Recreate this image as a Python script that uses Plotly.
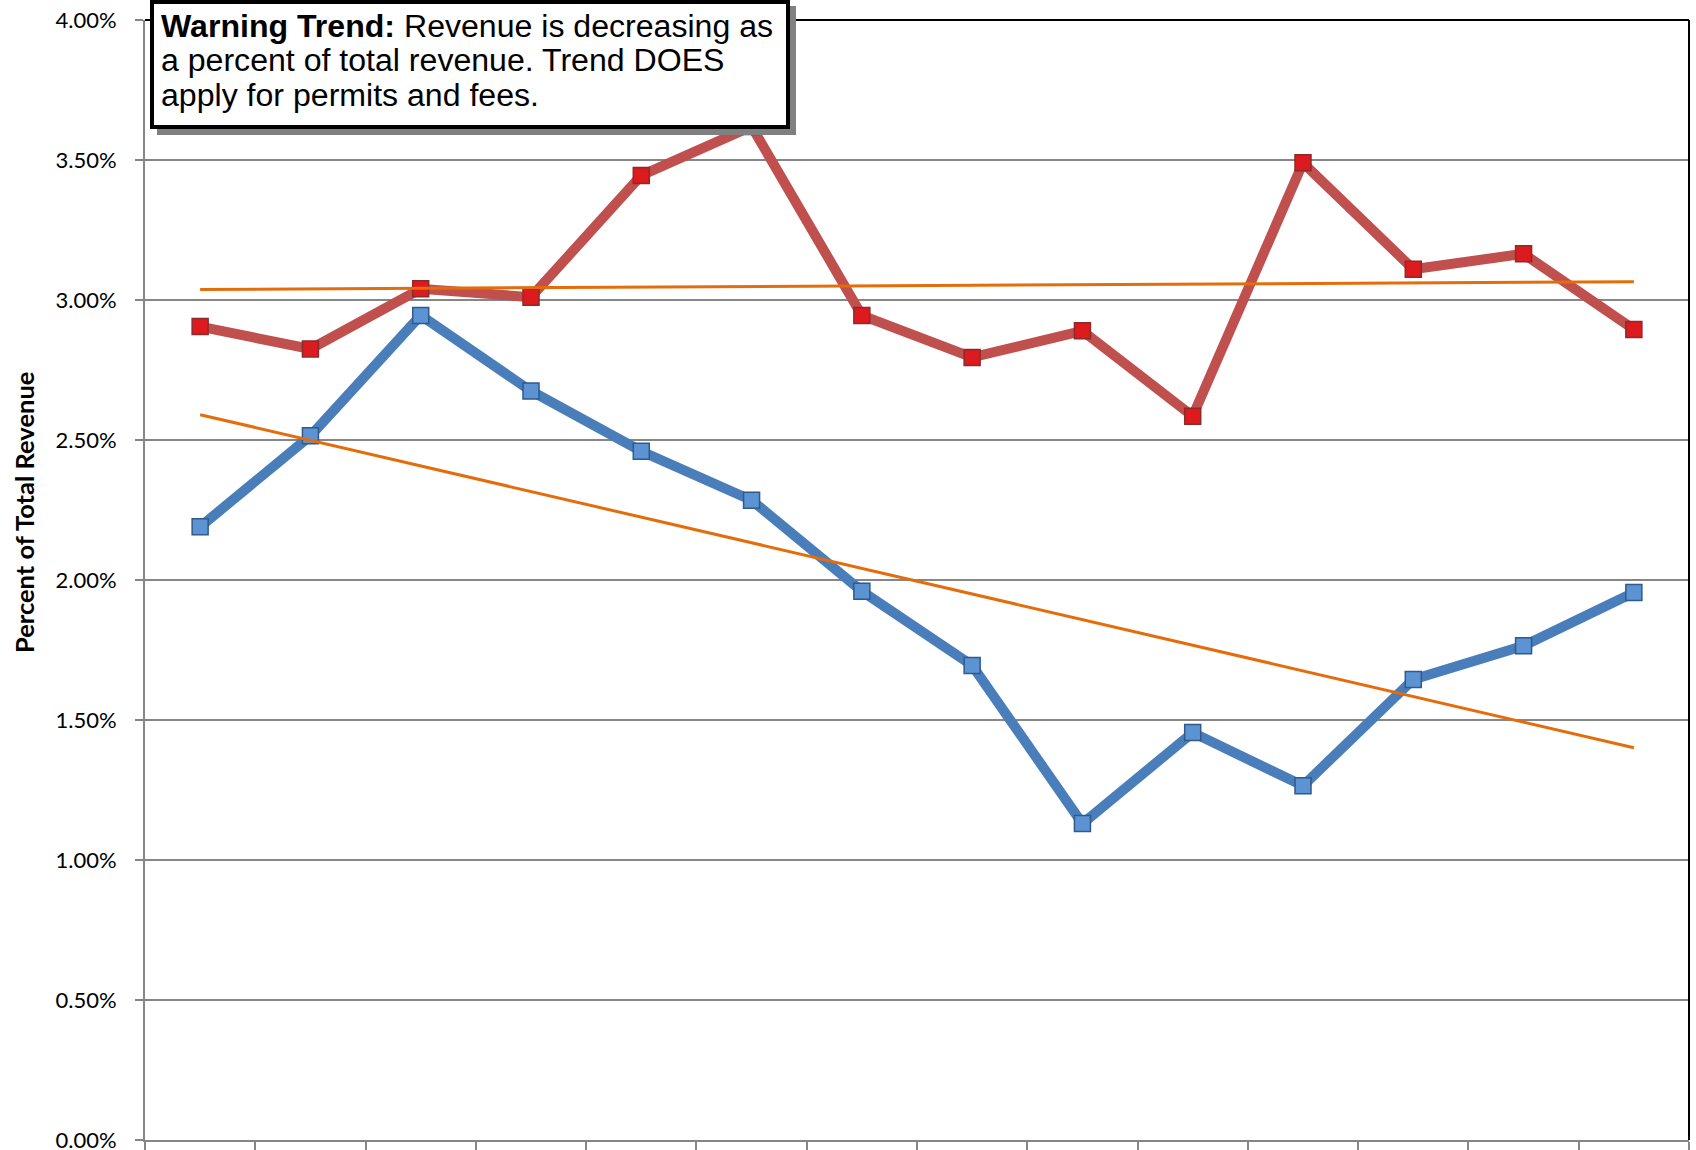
import numpy as np
import plotly.graph_objects as go

# ---- data (percent of total revenue) ----
categories = ["2000", "2001", "2002", "2003", "2004", "2005", "2006",
              "2007", "2008", "2009", "2010", "2011", "2012", "2013"]
permits_fees_pct = [2.19, 2.515, 2.945, 2.675, 2.46, 2.285, 1.96,
                    1.695, 1.13, 1.455, 1.265, 1.645, 1.765, 1.955]
comparison_pct = [2.905, 2.825, 3.04, 3.01, 3.445, 3.62, 2.945,
                  2.795, 2.89, 2.585, 3.49, 3.11, 3.165, 2.895]
y_tick_values = [0.0, 0.5, 1.0, 1.5, 2.0, 2.5, 3.0, 3.5, 4.0]
y_tick_labels = ["0.00%", "0.50%", "1.00%", "1.50%", "2.00%", "2.50%",
                 "3.00%", "3.50%", "4.00%"]

note_lines = ["<b>Warning Trend:</b> Revenue is decreasing as",
              "a percent of total revenue. Trend DOES",
              "apply for permits and fees."]
y_title = "Percent of Total Revenue"

# ---- geometry ----
W, H = 1696, 1150
L, R, T, B = 145, 7, 20, 10
PW, PH = W - L - R, H - T - B


def px_x(px):
    return (px - L) / PW


def px_y(py):
    return (H - B - py) / PH


idx = np.arange(len(categories))
fit_blue = np.polyval(np.polyfit(idx, permits_fees_pct, 1), idx)
fit_red = np.polyval(np.polyfit(idx, comparison_pct, 1), idx)

fig = go.Figure()
fig.add_trace(go.Scatter(
    x=categories, y=comparison_pct, mode="lines+markers", name="Comparison",
    line=dict(color="#C0504D", width=10),
    marker=dict(symbol="square", size=16, color="#DD1A1E",
                line=dict(color="#8C2B2B", width=1.5))))
fig.add_trace(go.Scatter(
    x=categories, y=permits_fees_pct, mode="lines+markers", name="Permits and Fees",
    line=dict(color="#4A7EBB", width=10),
    marker=dict(symbol="square", size=16, color="#5B93D3",
                line=dict(color="#2F5A8A", width=1.5))))
fig.add_trace(go.Scatter(
    x=categories, y=fit_red, mode="lines", name="Trend (Comparison)",
    line=dict(color="#E46C0A", width=3)))
fig.add_trace(go.Scatter(
    x=categories, y=fit_blue, mode="lines", name="Trend (Permits and Fees)",
    line=dict(color="#E46C0A", width=3)))

fig.update_layout(
    width=W, height=H,
    margin=dict(l=L, r=R, t=T, b=B, autoexpand=False),
    plot_bgcolor="white", paper_bgcolor="white",
    showlegend=False, hovermode=False,
    font=dict(family="Lato, Arial, sans-serif", color="black"),
)
fig.update_xaxes(
    type="category", range=[-0.5, len(categories) - 0.5],
    showgrid=False, zeroline=False,
    showline=True, linecolor="#868686", linewidth=2,
    ticks="outside", tickson="boundaries", ticklen=12,
    tickcolor="#868686", tickwidth=2,
    showticklabels=False,
)
fig.update_yaxes(
    range=[0, 4], tickmode="array", tickvals=y_tick_values, ticktext=y_tick_labels,
    showgrid=True, gridcolor="#868686", gridwidth=1.5, zeroline=False,
    showline=True, linecolor="#868686", linewidth=2,
    ticks="outside", ticklen=8, tickcolor="#868686", tickwidth=2,
    tickfont=dict(family="Lato, Arial, sans-serif", size=22, color="black"),
    ticklabelstandoff=14, ticklabeloverflow="allow",
)

shapes = [
    dict(type="line", xref="paper", yref="paper", x0=0, x1=1, y0=1, y1=1,
         line=dict(color="black", width=2)),
    dict(type="line", xref="paper", yref="paper", x0=1, x1=1, y0=0, y1=1,
         line=dict(color="black", width=2)),
    # text box shadow
    dict(type="rect", xref="paper", yref="paper",
         x0=px_x(157), x1=px_x(796), y0=px_y(135), y1=px_y(6),
         fillcolor="#808080", line=dict(width=0)),
    # text box
    dict(type="rect", xref="paper", yref="paper",
         x0=px_x(152), x1=px_x(788), y0=px_y(127), y1=px_y(2),
         fillcolor="white", line=dict(color="black", width=4)),
]
fig.update_layout(shapes=shapes)

annotations = []
for i, line in enumerate(note_lines):
    annotations.append(dict(
        xref="paper", yref="paper", x=px_x(159), y=px_y(25.5 + 34.5 * i),
        xanchor="left", yanchor="middle", showarrow=False, text=line,
        font=dict(family="Liberation Sans, Arial, sans-serif", size=32.1, color="black")))
annotations.append(dict(
    xref="paper", yref="paper", x=px_x(24), y=px_y(513),
    xanchor="center", yanchor="middle", showarrow=False, textangle=-90,
    text="<b>" + y_title + "</b>",
    font=dict(family="Lato, Arial, sans-serif", size=25.5, color="black")))
fig.update_layout(annotations=annotations)

fig.write_html("out.html", config={"displayModeBar": False, "staticPlot": True},
               post_script="document.body.style.margin='0';document.body.style.padding='0';")
